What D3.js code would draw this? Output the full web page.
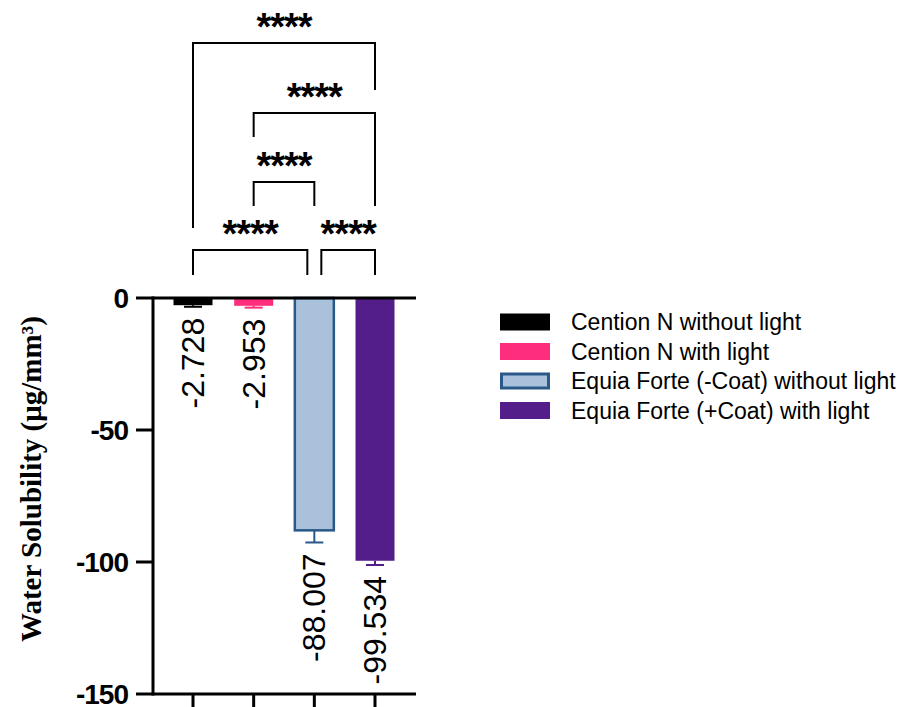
<!DOCTYPE html>
<html>
<head>
<meta charset="utf-8">
<script src="https://cdn.jsdelivr.net/npm/d3@7"></script>
<style>
  body { margin: 0; background: #fff; }
  svg { display: block; }
</style>
</head>
<body>
<svg id="chart" width="903" height="707"></svg>
<script>
// data
const groups = ["Cention N without light", "Cention N with light",
                "Equia Forte (-Coat) without light", "Equia Forte (+Coat) with light"];
const means = [-2.728, -2.953, -88.007, -99.534];
const errors = [0.6, 0.7, 4.6, 1.6];
const valueLabels = ["-2.728", "-2.953", "-88.007", "-99.534"];
const yTicks = [0, -50, -100, -150];
// significance comparisons: [from, to, label]
const comparisons = [[0, 3, "****"], [1, 3, "****"], [1, 2, "****"], [0, 2, "****"], [2, 3, "****"]];

const fills = ["#000000", "#ff2e7c", "#aac1dc", "#541e8a"];
const strokes = ["#000000", "#ff2e7c", "#2a5888", "#541e8a"];

const svg = d3.select("#chart");

const y = d3.scaleLinear().domain([0, -150]).range([298, 694]);
const x = d3.scalePoint().domain(d3.range(groups.length)).range([193, 375]);
const barW = 39;
const axisLeft = 153, axisRight = 416;

// bars
svg.selectAll("rect.bar")
  .data(means)
  .join("rect")
  .attr("class", "bar")
  .attr("x", (d, i) => x(i) - barW / 2)
  .attr("y", y(0))
  .attr("width", barW)
  .attr("height", d => y(d) - y(0))
  .attr("fill", (d, i) => fills[i])
  .attr("stroke", (d, i) => strokes[i])
  .attr("stroke-width", (d, i) => i === 2 ? 2.5 : 0);

// error bars (one-sided, away from zero)
const err = svg.append("g");
means.forEach((m, i) => {
  err.append("line")
    .attr("x1", x(i)).attr("x2", x(i))
    .attr("y1", y(m)).attr("y2", y(m - errors[i]))
    .attr("stroke", strokes[i]).attr("stroke-width", 2);
  err.append("line")
    .attr("x1", x(i) - 9).attr("x2", x(i) + 9)
    .attr("y1", y(m - errors[i])).attr("y2", y(m - errors[i]))
    .attr("stroke", strokes[i]).attr("stroke-width", 2);
});

// value labels, rotated
svg.selectAll("text.val")
  .data(means)
  .join("text")
  .attr("class", "val")
  .attr("transform", (d, i) => `translate(${x(i)},${y(d - errors[i]) + 11}) rotate(-90)`)
  .attr("text-anchor", "end")
  .attr("dominant-baseline", "central")
  .style("font", "32px 'Liberation Sans', Arial, sans-serif")
  .text((d, i) => valueLabels[i]);

// axes
const ax = svg.append("g").attr("stroke", "#000").attr("stroke-width", 3);
ax.append("line").attr("x1", axisLeft).attr("x2", axisLeft).attr("y1", y(0) - 1.5).attr("y2", y(-150) + 1.5);
ax.append("line").attr("x1", axisLeft).attr("x2", axisRight).attr("y1", y(0)).attr("y2", y(0));
ax.append("line").attr("x1", axisLeft).attr("x2", axisRight).attr("y1", y(-150)).attr("y2", y(-150));
yTicks.forEach(t => {
  ax.append("line").attr("x1", axisLeft - 17).attr("x2", axisLeft).attr("y1", y(t)).attr("y2", y(t));
});
groups.forEach((g, i) => {
  ax.append("line").attr("x1", x(i)).attr("x2", x(i)).attr("y1", y(-150)).attr("y2", y(-150) + 16);
});

svg.selectAll("text.ytick")
  .data(yTicks)
  .join("text")
  .attr("class", "ytick")
  .attr("x", 128)
  .attr("y", d => y(d))
  .attr("text-anchor", "end")
  .attr("dominant-baseline", "central")
  .style("font", "bold 28px 'Liberation Sans', Arial, sans-serif")
  .style("letter-spacing", "-1px")
  .text(d => d);

// y axis title
svg.append("text")
  .attr("transform", "translate(31,479) rotate(-90)")
  .attr("text-anchor", "middle")
  .attr("dominant-baseline", "central")
  .style("font", "bold 29px 'Liberation Serif', 'Times New Roman', serif")
  .text("Water Solubility (μg/mm³)");

// significance brackets: [barY, leftLegEnd, rightLegEnd, leftOffset, rightOffset]
const bracketLayout = [
  [43, 228, 90, 0, 0],
  [113, 137, 206, 0, 0],
  [182, 206, 206, 0, 0],
  [250, 275, 275, 0, -7],
  [250, 275, 275, 7, 0]
];
const br = svg.append("g");
comparisons.forEach((c, k) => {
  const [a, b, lab] = c;
  const [by, l1, l2, o1, o2] = bracketLayout[k];
  const xa = x(a) + o1, xb = x(b) + o2;
  br.append("path")
    .attr("d", `M${xa},${l1}V${by}H${xb}V${l2}`)
    .attr("fill", "none").attr("stroke", "#000").attr("stroke-width", 2);
  br.append("text")
    .attr("x", (xa + xb) / 2)
    .attr("y", by - 3)
    .attr("text-anchor", "middle")
    .style("font", "bold 38px 'Liberation Sans', Arial, sans-serif")
    .style("letter-spacing", "-1px")
    .text(lab);
});

// legend
const leg = svg.append("g").attr("transform", "translate(500,322)");
groups.forEach((g, i) => {
  const row = leg.append("g").attr("transform", `translate(0,${i * 29.5})`);
  row.append("rect")
    .attr("x", i === 2 ? 1.5 : 0).attr("y", i === 2 ? -7 : -8.5)
    .attr("width", i === 2 ? 47 : 50).attr("height", i === 2 ? 14 : 17)
    .attr("fill", fills[i])
    .attr("stroke", strokes[i])
    .attr("stroke-width", i === 2 ? 3 : 0);
  row.append("text")
    .attr("x", 71)
    .attr("y", 0)
    .attr("dominant-baseline", "central")
    .style("font", "23px 'Liberation Sans', Arial, sans-serif")
    .text(g);
});
</script>
</body>
</html>
